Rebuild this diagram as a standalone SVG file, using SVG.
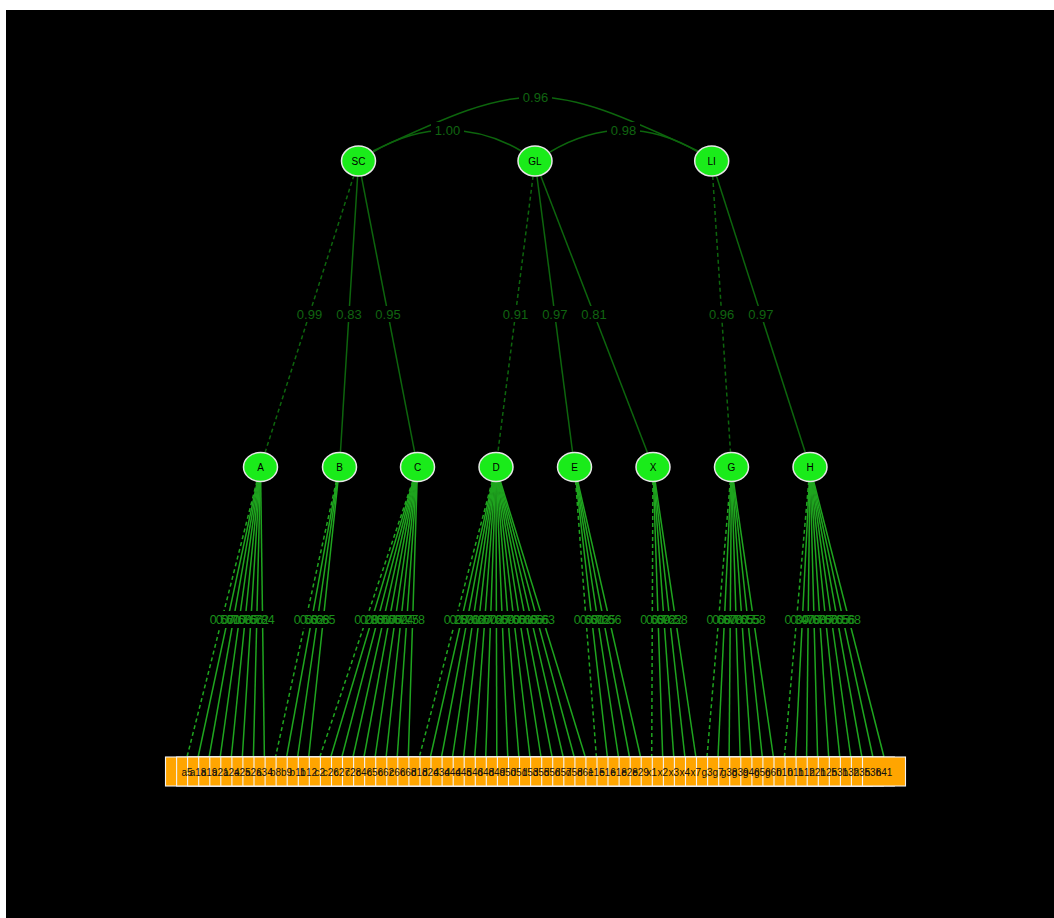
<svg xmlns="http://www.w3.org/2000/svg" width="1054" height="918" viewBox="0 0 1054 918">
<style>
text{font-family:"Liberation Sans",Arial,sans-serif}
.lat{fill:#1aeb1a;stroke:#e6e6e6;stroke-width:1.5}
.nt{font-size:10px;fill:#000;text-anchor:middle}
.c2{stroke:#0d650d;stroke-width:1.5;fill:none}
.l1{stroke:#1fa51f;stroke-width:1.5;fill:none}
.d{stroke-dasharray:4 3}
.bk{fill:#000}
.el{font-size:13px;fill:#106410;text-anchor:middle}
.ll{font-size:12.5px;fill:#1a8f1a;text-anchor:middle}
.box{fill:#ffa500;stroke:#f2f2f2;stroke-width:1.1}
.bt{font-size:10px;fill:#111;text-anchor:middle}
</style>
<rect x="0" y="0" width="1054" height="918" fill="#fff"/>
<rect x="6" y="10" width="1048" height="908" fill="#000"/>
<g id="connectors">
<g id="covariances">
<path class="c2" d="M373,151 C527,79 544,79 698,151"/>
<path class="c2" d="M373,152 C421,123 475,123 523,152"/>
<path class="c2" d="M550,152 C598,123 651,123 698,152"/>
<rect class="bk" x="519" y="89" width="33" height="16"/>
<rect class="bk" x="431" y="122" width="33" height="16"/>
<rect class="bk" x="607" y="122" width="33" height="16"/>
<text class="el" x="535.5" y="101.5">0.96</text>
<text class="el" x="447.5" y="134.5">1.00</text>
<text class="el" x="623.5" y="134.5">0.98</text>
</g>
<g id="second-order">
<line class="c2 d" x1="353.9" y1="175.4" x2="265" y2="452.8"/>
<line class="c2" x1="357.6" y1="176" x2="340.4" y2="452.3"/>
<line class="c2" x1="361.3" y1="175.8" x2="414.7" y2="452.3"/>
<line class="c2 d" x1="533.1" y1="175.9" x2="497.9" y2="452.3"/>
<line class="c2" x1="536.9" y1="175.9" x2="572.6" y2="452.3"/>
<line class="c2" x1="540.5" y1="175.2" x2="647.5" y2="452.8"/>
<line class="c2 d" x1="712.7" y1="176" x2="730.5" y2="452.3"/>
<line class="c2" x1="716.3" y1="175.4" x2="805.4" y2="452.8"/>
<rect class="bk" x="295" y="306" width="29" height="16"/>
<rect class="bk" x="334.5" y="306" width="29" height="16"/>
<rect class="bk" x="373.5" y="306" width="29" height="16"/>
<rect class="bk" x="501" y="306" width="29" height="16"/>
<rect class="bk" x="540.3" y="306" width="29" height="16"/>
<rect class="bk" x="579.5" y="306" width="29" height="16"/>
<rect class="bk" x="707.1" y="306" width="29" height="16"/>
<rect class="bk" x="746.4" y="306" width="29" height="16"/>
<text class="el" x="309.5" y="319">0.99</text>
<text class="el" x="349" y="319">0.83</text>
<text class="el" x="388" y="319">0.95</text>
<text class="el" x="515.5" y="319">0.91</text>
<text class="el" x="554.8" y="319">0.97</text>
<text class="el" x="594" y="319">0.81</text>
<text class="el" x="721.6" y="319">0.96</text>
<text class="el" x="760.9" y="319">0.97</text>
</g>
<g id="loadings">
<line class="l1 d" x1="257" y1="481" x2="187" y2="757"/>
<line class="l1" x1="257.5" y1="481" x2="198.1" y2="757"/>
<line class="l1" x1="258" y1="481" x2="209.1" y2="757"/>
<line class="l1" x1="258.6" y1="481" x2="220.2" y2="757"/>
<line class="l1" x1="259.1" y1="481" x2="231.3" y2="757"/>
<line class="l1" x1="259.6" y1="481" x2="242.3" y2="757"/>
<line class="l1" x1="260.2" y1="481" x2="253.4" y2="757"/>
<line class="l1" x1="260.7" y1="481" x2="264.4" y2="757"/>
<line class="l1 d" x1="336.4" y1="481" x2="275.5" y2="757"/>
<line class="l1" x1="337" y1="481" x2="286.6" y2="757"/>
<line class="l1" x1="337.5" y1="481" x2="297.6" y2="757"/>
<line class="l1" x1="338" y1="481" x2="308.7" y2="757"/>
<line class="l1 d" x1="412.8" y1="481" x2="319.8" y2="757"/>
<line class="l1" x1="413.3" y1="481" x2="330.8" y2="757"/>
<line class="l1" x1="413.9" y1="481" x2="341.9" y2="757"/>
<line class="l1" x1="414.4" y1="481" x2="353" y2="757"/>
<line class="l1" x1="414.9" y1="481" x2="364" y2="757"/>
<line class="l1" x1="415.5" y1="481" x2="375.1" y2="757"/>
<line class="l1" x1="416" y1="481" x2="386.1" y2="757"/>
<line class="l1" x1="416.5" y1="481" x2="397.2" y2="757"/>
<line class="l1" x1="417.1" y1="481" x2="408.3" y2="757"/>
<line class="l1 d" x1="492.3" y1="481" x2="419.3" y2="757"/>
<line class="l1" x1="492.9" y1="481" x2="430.4" y2="757"/>
<line class="l1" x1="493.4" y1="481" x2="441.5" y2="757"/>
<line class="l1" x1="493.9" y1="481" x2="452.5" y2="757"/>
<line class="l1" x1="494.4" y1="481" x2="463.6" y2="757"/>
<line class="l1" x1="495" y1="481" x2="474.7" y2="757"/>
<line class="l1" x1="495.5" y1="481" x2="485.7" y2="757"/>
<line class="l1" x1="496" y1="481" x2="496.8" y2="757"/>
<line class="l1" x1="496.6" y1="481" x2="507.8" y2="757"/>
<line class="l1" x1="497.1" y1="481" x2="518.9" y2="757"/>
<line class="l1" x1="497.6" y1="481" x2="530" y2="757"/>
<line class="l1" x1="498.2" y1="481" x2="541" y2="757"/>
<line class="l1" x1="498.7" y1="481" x2="552.1" y2="757"/>
<line class="l1" x1="499.2" y1="481" x2="563.2" y2="757"/>
<line class="l1" x1="499.8" y1="481" x2="574.2" y2="757"/>
<line class="l1" x1="500.3" y1="481" x2="585.3" y2="757"/>
<line class="l1 d" x1="575.6" y1="481" x2="596.4" y2="757"/>
<line class="l1" x1="576.1" y1="481" x2="607.4" y2="757"/>
<line class="l1" x1="576.6" y1="481" x2="618.5" y2="757"/>
<line class="l1" x1="577.1" y1="481" x2="629.5" y2="757"/>
<line class="l1" x1="577.7" y1="481" x2="640.6" y2="757"/>
<line class="l1 d" x1="652.9" y1="481" x2="651.7" y2="757"/>
<line class="l1" x1="653.5" y1="481" x2="662.7" y2="757"/>
<line class="l1" x1="654" y1="481" x2="673.8" y2="757"/>
<line class="l1" x1="654.5" y1="481" x2="684.9" y2="757"/>
<line class="l1" x1="655.1" y1="481" x2="695.9" y2="757"/>
<line class="l1 d" x1="730.3" y1="481" x2="707" y2="757"/>
<line class="l1" x1="730.9" y1="481" x2="718" y2="757"/>
<line class="l1" x1="731.4" y1="481" x2="729.1" y2="757"/>
<line class="l1" x1="731.9" y1="481" x2="740.2" y2="757"/>
<line class="l1" x1="732.4" y1="481" x2="751.2" y2="757"/>
<line class="l1" x1="733" y1="481" x2="762.3" y2="757"/>
<line class="l1" x1="733.5" y1="481" x2="773.4" y2="757"/>
<line class="l1 d" x1="808.8" y1="481" x2="784.4" y2="757"/>
<line class="l1" x1="809.3" y1="481" x2="795.5" y2="757"/>
<line class="l1" x1="809.8" y1="481" x2="806.6" y2="757"/>
<line class="l1" x1="810.4" y1="481" x2="817.6" y2="757"/>
<line class="l1" x1="810.9" y1="481" x2="828.7" y2="757"/>
<line class="l1" x1="811.4" y1="481" x2="839.8" y2="757"/>
<line class="l1" x1="812" y1="481" x2="850.8" y2="757"/>
<line class="l1" x1="812.5" y1="481" x2="861.9" y2="757"/>
<line class="l1" x1="813" y1="481" x2="872.9" y2="757"/>
<line class="l1" x1="813.6" y1="481" x2="884" y2="757"/>
<rect class="bk" x="208" y="611" width="68.6" height="17"/>
<rect class="bk" x="292" y="611" width="45.4" height="17"/>
<rect class="bk" x="352.3" y="611" width="74.4" height="17"/>
<rect class="bk" x="441.8" y="611" width="115" height="17"/>
<rect class="bk" x="572" y="611" width="51.2" height="17"/>
<rect class="bk" x="638.3" y="611" width="51.2" height="17"/>
<rect class="bk" x="704.7" y="611" width="62.8" height="17"/>
<rect class="bk" x="782.6" y="611" width="80.2" height="17"/>
<text class="ll" x="222" y="623.5">0.57</text>
<text class="ll" x="227.8" y="623.5">0.61</text>
<text class="ll" x="233.6" y="623.5">0.70</text>
<text class="ll" x="239.4" y="623.5">0.68</text>
<text class="ll" x="245.2" y="623.5">0.75</text>
<text class="ll" x="251" y="623.5">0.66</text>
<text class="ll" x="256.8" y="623.5">0.72</text>
<text class="ll" x="262.6" y="623.5">0.84</text>
<text class="ll" x="306" y="623.5">0.53</text>
<text class="ll" x="311.8" y="623.5">0.62</text>
<text class="ll" x="317.6" y="623.5">0.68</text>
<text class="ll" x="323.4" y="623.5">0.65</text>
<text class="ll" x="366.3" y="623.5">0.28</text>
<text class="ll" x="372.1" y="623.5">0.33</text>
<text class="ll" x="377.9" y="623.5">0.61</text>
<text class="ll" x="383.7" y="623.5">0.57</text>
<text class="ll" x="389.5" y="623.5">0.66</text>
<text class="ll" x="395.3" y="623.5">0.62</text>
<text class="ll" x="401.1" y="623.5">0.74</text>
<text class="ll" x="406.9" y="623.5">0.75</text>
<text class="ll" x="412.7" y="623.5">0.78</text>
<text class="ll" x="455.8" y="623.5">0.28</text>
<text class="ll" x="461.6" y="623.5">0.53</text>
<text class="ll" x="467.4" y="623.5">0.71</text>
<text class="ll" x="473.2" y="623.5">0.62</text>
<text class="ll" x="479" y="623.5">0.67</text>
<text class="ll" x="484.8" y="623.5">0.60</text>
<text class="ll" x="490.6" y="623.5">0.72</text>
<text class="ll" x="496.4" y="623.5">0.65</text>
<text class="ll" x="502.2" y="623.5">0.69</text>
<text class="ll" x="508" y="623.5">0.70</text>
<text class="ll" x="513.8" y="623.5">0.66</text>
<text class="ll" x="519.6" y="623.5">0.61</text>
<text class="ll" x="525.4" y="623.5">0.68</text>
<text class="ll" x="531.2" y="623.5">0.66</text>
<text class="ll" x="537" y="623.5">0.56</text>
<text class="ll" x="542.8" y="623.5">0.63</text>
<text class="ll" x="586" y="623.5">0.63</text>
<text class="ll" x="591.8" y="623.5">0.61</text>
<text class="ll" x="597.6" y="623.5">0.72</text>
<text class="ll" x="603.3" y="623.5">0.65</text>
<text class="ll" x="609.2" y="623.5">0.66</text>
<text class="ll" x="652.3" y="623.5">0.63</text>
<text class="ll" x="658.1" y="623.5">0.69</text>
<text class="ll" x="663.9" y="623.5">0.72</text>
<text class="ll" x="669.7" y="623.5">0.62</text>
<text class="ll" x="675.5" y="623.5">0.58</text>
<text class="ll" x="718.7" y="623.5">0.68</text>
<text class="ll" x="724.5" y="623.5">0.67</text>
<text class="ll" x="730.3" y="623.5">0.78</text>
<text class="ll" x="736.1" y="623.5">0.70</text>
<text class="ll" x="741.8" y="623.5">0.65</text>
<text class="ll" x="747.7" y="623.5">0.55</text>
<text class="ll" x="753.5" y="623.5">0.58</text>
<text class="ll" x="796.6" y="623.5">0.39</text>
<text class="ll" x="802.4" y="623.5">0.47</text>
<text class="ll" x="808.2" y="623.5">0.78</text>
<text class="ll" x="814" y="623.5">0.68</text>
<text class="ll" x="819.8" y="623.5">0.75</text>
<text class="ll" x="825.6" y="623.5">0.66</text>
<text class="ll" x="831.4" y="623.5">0.70</text>
<text class="ll" x="837.2" y="623.5">0.65</text>
<text class="ll" x="843" y="623.5">0.56</text>
<text class="ll" x="848.8" y="623.5">0.68</text>
</g>
</g>
<g id="SC"><ellipse class="lat" cx="358.5" cy="161" rx="17" ry="15"/><text class="nt" x="358.5" y="164.5">SC</text></g>
<g id="GL"><ellipse class="lat" cx="535" cy="161" rx="17" ry="15"/><text class="nt" x="535" y="164.5">GL</text></g>
<g id="LI"><ellipse class="lat" cx="711.7" cy="161" rx="17" ry="15"/><text class="nt" x="711.7" y="164.5">LI</text></g>
<g id="A"><ellipse class="lat" cx="260.5" cy="467" rx="17" ry="14.5"/><text class="nt" x="260.5" y="470.5">A</text></g>
<g id="B"><ellipse class="lat" cx="339.5" cy="467" rx="17" ry="14.5"/><text class="nt" x="339.5" y="470.5">B</text></g>
<g id="C"><ellipse class="lat" cx="417.5" cy="467" rx="17" ry="14.5"/><text class="nt" x="417.5" y="470.5">C</text></g>
<g id="D"><ellipse class="lat" cx="496" cy="467" rx="17" ry="14.5"/><text class="nt" x="496" y="470.5">D</text></g>
<g id="E"><ellipse class="lat" cx="574.5" cy="467" rx="17" ry="14.5"/><text class="nt" x="574.5" y="470.5">E</text></g>
<g id="X"><ellipse class="lat" cx="653" cy="467" rx="17" ry="14.5"/><text class="nt" x="653" y="470.5">X</text></g>
<g id="G"><ellipse class="lat" cx="731.5" cy="467" rx="17" ry="14.5"/><text class="nt" x="731.5" y="470.5">G</text></g>
<g id="H"><ellipse class="lat" cx="810" cy="467" rx="17" ry="14.5"/><text class="nt" x="810" y="470.5">H</text></g>
<g id="indicators">
<g id="a5"><rect class="box" x="165.5" y="757" width="43" height="29"/></g>
<g id="a18"><rect class="box" x="176.6" y="757" width="43" height="29"/></g>
<g id="a19"><rect class="box" x="187.6" y="757" width="43" height="29"/></g>
<g id="a21"><rect class="box" x="198.7" y="757" width="43" height="29"/></g>
<g id="a24"><rect class="box" x="209.8" y="757" width="43" height="29"/></g>
<g id="a25"><rect class="box" x="220.8" y="757" width="43" height="29"/></g>
<g id="a26"><rect class="box" x="231.9" y="757" width="43" height="29"/></g>
<g id="a34"><rect class="box" x="242.9" y="757" width="43" height="29"/></g>
<g id="b8"><rect class="box" x="254" y="757" width="43" height="29"/></g>
<g id="b9"><rect class="box" x="265.1" y="757" width="43" height="29"/></g>
<g id="b11"><rect class="box" x="276.1" y="757" width="43" height="29"/></g>
<g id="b12"><rect class="box" x="287.2" y="757" width="43" height="29"/></g>
<g id="c2"><rect class="box" x="298.3" y="757" width="43" height="29"/></g>
<g id="c26"><rect class="box" x="309.3" y="757" width="43" height="29"/></g>
<g id="c27"><rect class="box" x="320.4" y="757" width="43" height="29"/></g>
<g id="c28"><rect class="box" x="331.5" y="757" width="43" height="29"/></g>
<g id="c46"><rect class="box" x="342.5" y="757" width="43" height="29"/></g>
<g id="c56"><rect class="box" x="353.6" y="757" width="43" height="29"/></g>
<g id="c62"><rect class="box" x="364.6" y="757" width="43" height="29"/></g>
<g id="c66"><rect class="box" x="375.7" y="757" width="43" height="29"/></g>
<g id="c68"><rect class="box" x="386.8" y="757" width="43" height="29"/></g>
<g id="d18"><rect class="box" x="397.8" y="757" width="43" height="29"/></g>
<g id="d24"><rect class="box" x="408.9" y="757" width="43" height="29"/></g>
<g id="d34"><rect class="box" x="420" y="757" width="43" height="29"/></g>
<g id="d44"><rect class="box" x="431" y="757" width="43" height="29"/></g>
<g id="d45"><rect class="box" x="442.1" y="757" width="43" height="29"/></g>
<g id="d46"><rect class="box" x="453.2" y="757" width="43" height="29"/></g>
<g id="d48"><rect class="box" x="464.2" y="757" width="43" height="29"/></g>
<g id="d49"><rect class="box" x="475.3" y="757" width="43" height="29"/></g>
<g id="d50"><rect class="box" x="486.3" y="757" width="43" height="29"/></g>
<g id="d51"><rect class="box" x="497.4" y="757" width="43" height="29"/></g>
<g id="d53"><rect class="box" x="508.5" y="757" width="43" height="29"/></g>
<g id="d55"><rect class="box" x="519.5" y="757" width="43" height="29"/></g>
<g id="d56"><rect class="box" x="530.6" y="757" width="43" height="29"/></g>
<g id="d57"><rect class="box" x="541.7" y="757" width="43" height="29"/></g>
<g id="d58"><rect class="box" x="552.7" y="757" width="43" height="29"/></g>
<g id="d61"><rect class="box" x="563.8" y="757" width="43" height="29"/></g>
<g id="e15"><rect class="box" x="574.9" y="757" width="43" height="29"/></g>
<g id="e16"><rect class="box" x="585.9" y="757" width="43" height="29"/></g>
<g id="e18"><rect class="box" x="597" y="757" width="43" height="29"/></g>
<g id="e28"><rect class="box" x="608" y="757" width="43" height="29"/></g>
<g id="e29"><rect class="box" x="619.1" y="757" width="43" height="29"/></g>
<g id="x1"><rect class="box" x="630.2" y="757" width="43" height="29"/></g>
<g id="x2"><rect class="box" x="641.2" y="757" width="43" height="29"/></g>
<g id="x3"><rect class="box" x="652.3" y="757" width="43" height="29"/></g>
<g id="x4"><rect class="box" x="663.4" y="757" width="43" height="29"/></g>
<g id="x7"><rect class="box" x="674.4" y="757" width="43" height="29"/></g>
<g id="g3"><rect class="box" x="685.5" y="757" width="43" height="29"/></g>
<g id="g7"><rect class="box" x="696.5" y="757" width="43" height="29"/></g>
<g id="g38"><rect class="box" x="707.6" y="757" width="43" height="29"/></g>
<g id="g39"><rect class="box" x="718.7" y="757" width="43" height="29"/></g>
<g id="g46"><rect class="box" x="729.7" y="757" width="43" height="29"/></g>
<g id="g56"><rect class="box" x="740.8" y="757" width="43" height="29"/></g>
<g id="g60"><rect class="box" x="751.9" y="757" width="43" height="29"/></g>
<g id="h10"><rect class="box" x="762.9" y="757" width="43" height="29"/></g>
<g id="h11"><rect class="box" x="774" y="757" width="43" height="29"/></g>
<g id="h12"><rect class="box" x="785.1" y="757" width="43" height="29"/></g>
<g id="h21"><rect class="box" x="796.1" y="757" width="43" height="29"/></g>
<g id="h25"><rect class="box" x="807.2" y="757" width="43" height="29"/></g>
<g id="h31"><rect class="box" x="818.3" y="757" width="43" height="29"/></g>
<g id="h32"><rect class="box" x="829.3" y="757" width="43" height="29"/></g>
<g id="h35"><rect class="box" x="840.4" y="757" width="43" height="29"/></g>
<g id="h36"><rect class="box" x="851.4" y="757" width="43" height="29"/></g>
<g id="h41"><rect class="box" x="862.5" y="757" width="43" height="29"/></g>
</g>
<g id="indicator-labels">
<text class="bt" x="187" y="775.5">a5</text>
<text class="bt" x="198.1" y="775.5">a18</text>
<text class="bt" x="209.1" y="775.5">a19</text>
<text class="bt" x="220.2" y="775.5">a21</text>
<text class="bt" x="231.3" y="775.5">a24</text>
<text class="bt" x="242.3" y="775.5">a25</text>
<text class="bt" x="253.4" y="775.5">a26</text>
<text class="bt" x="264.4" y="775.5">a34</text>
<text class="bt" x="275.5" y="775.5">b8</text>
<text class="bt" x="286.6" y="775.5">b9</text>
<text class="bt" x="297.6" y="775.5">b11</text>
<text class="bt" x="308.7" y="775.5">b12</text>
<text class="bt" x="319.8" y="775.5">c2</text>
<text class="bt" x="330.8" y="775.5">c26</text>
<text class="bt" x="341.9" y="775.5">c27</text>
<text class="bt" x="353" y="775.5">c28</text>
<text class="bt" x="364" y="775.5">c46</text>
<text class="bt" x="375.1" y="775.5">c56</text>
<text class="bt" x="386.1" y="775.5">c62</text>
<text class="bt" x="397.2" y="775.5">c66</text>
<text class="bt" x="408.3" y="775.5">c68</text>
<text class="bt" x="419.3" y="775.5">d18</text>
<text class="bt" x="430.4" y="775.5">d24</text>
<text class="bt" x="441.5" y="775.5">d34</text>
<text class="bt" x="452.5" y="775.5">d44</text>
<text class="bt" x="463.6" y="775.5">d45</text>
<text class="bt" x="474.7" y="775.5">d46</text>
<text class="bt" x="485.7" y="775.5">d48</text>
<text class="bt" x="496.8" y="775.5">d49</text>
<text class="bt" x="507.8" y="775.5">d50</text>
<text class="bt" x="518.9" y="775.5">d51</text>
<text class="bt" x="530" y="775.5">d53</text>
<text class="bt" x="541" y="775.5">d55</text>
<text class="bt" x="552.1" y="775.5">d56</text>
<text class="bt" x="563.2" y="775.5">d57</text>
<text class="bt" x="574.2" y="775.5">d58</text>
<text class="bt" x="585.3" y="775.5">d61</text>
<text class="bt" x="596.4" y="775.5">e15</text>
<text class="bt" x="607.4" y="775.5">e16</text>
<text class="bt" x="618.5" y="775.5">e18</text>
<text class="bt" x="629.5" y="775.5">e28</text>
<text class="bt" x="640.6" y="775.5">e29</text>
<text class="bt" x="651.7" y="775.5">x1</text>
<text class="bt" x="662.7" y="775.5">x2</text>
<text class="bt" x="673.8" y="775.5">x3</text>
<text class="bt" x="684.9" y="775.5">x4</text>
<text class="bt" x="695.9" y="775.5">x7</text>
<text class="bt" x="707" y="775.5">g3</text>
<text class="bt" x="718" y="775.5">g7</text>
<text class="bt" x="729.1" y="775.5">g38</text>
<text class="bt" x="740.2" y="775.5">g39</text>
<text class="bt" x="751.2" y="775.5">g46</text>
<text class="bt" x="762.3" y="775.5">g56</text>
<text class="bt" x="773.4" y="775.5">g60</text>
<text class="bt" x="784.4" y="775.5">h10</text>
<text class="bt" x="795.5" y="775.5">h11</text>
<text class="bt" x="806.6" y="775.5">h12</text>
<text class="bt" x="817.6" y="775.5">h21</text>
<text class="bt" x="828.7" y="775.5">h25</text>
<text class="bt" x="839.8" y="775.5">h31</text>
<text class="bt" x="850.8" y="775.5">h32</text>
<text class="bt" x="861.9" y="775.5">h35</text>
<text class="bt" x="872.9" y="775.5">h36</text>
<text class="bt" x="884" y="775.5">h41</text>
</g>
</svg>
